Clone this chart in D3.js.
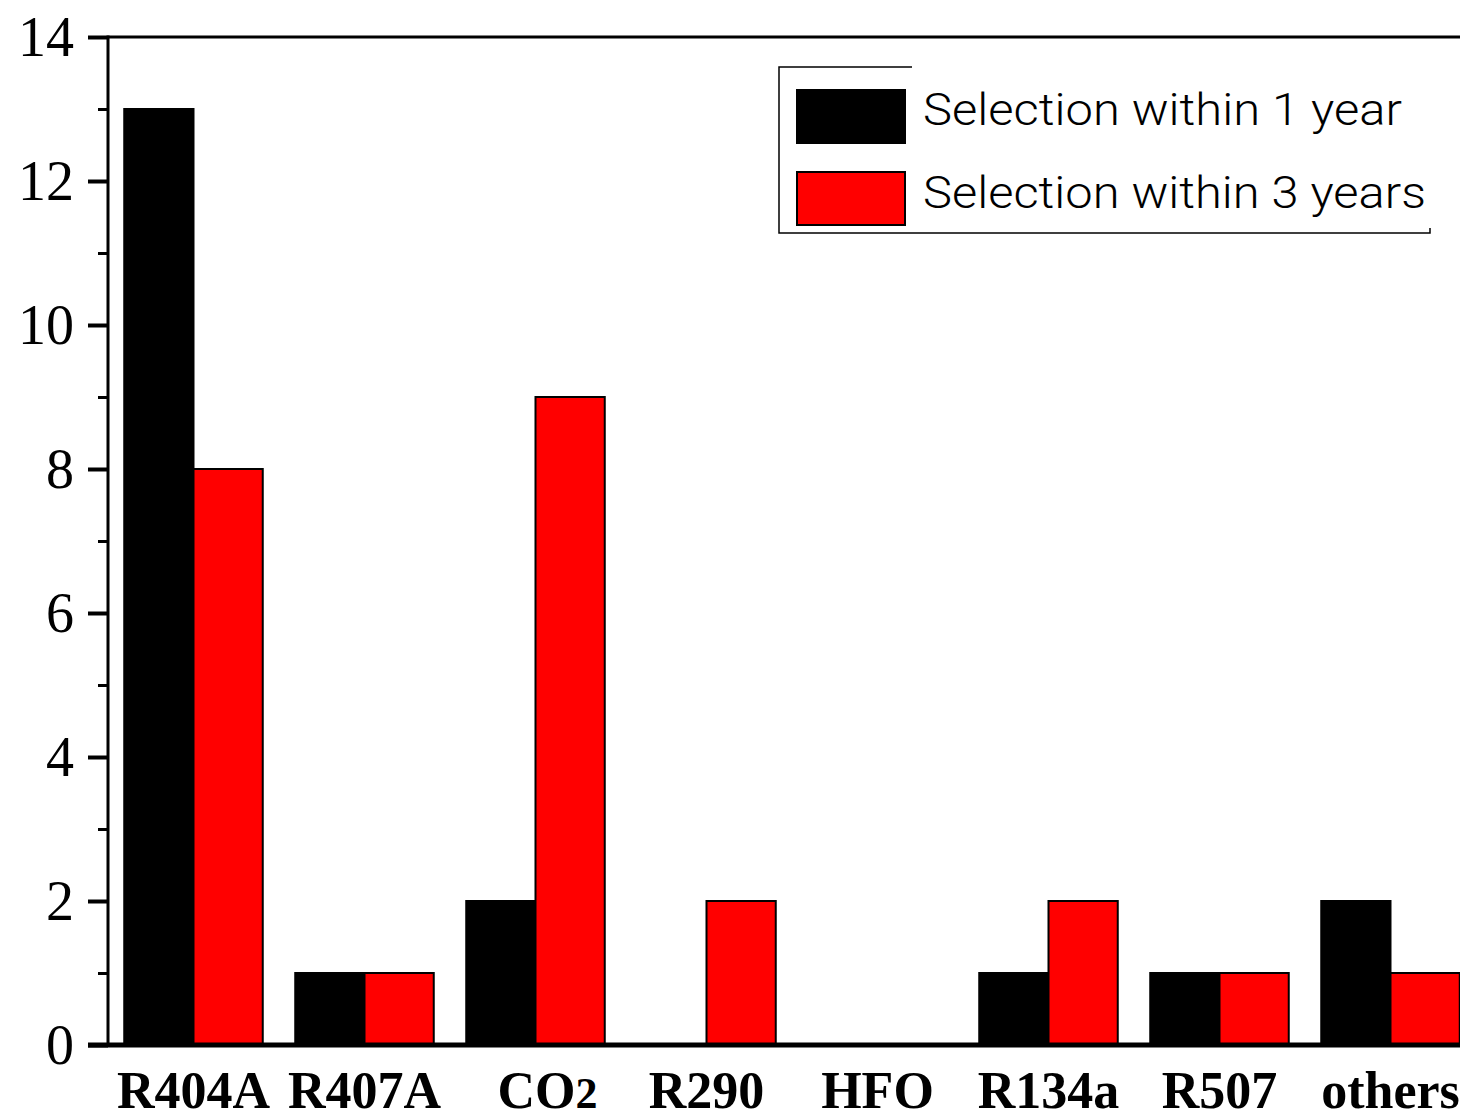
<!DOCTYPE html>
<html>
<head>
<meta charset="utf-8">
<script src="https://cdn.jsdelivr.net/npm/d3@7"></script>
<style>
  body { margin: 0; background: #fff; overflow: hidden; }
  .y-axis text { font-family: "Liberation Serif", "Times New Roman", serif; font-size: 56px; fill: #000; }
  .x-axis text { font-family: "Liberation Serif", "Times New Roman", serif; font-size: 52px; font-weight: bold; fill: #000; }
  .legend text { font-family: Roboto, "Liberation Sans", sans-serif; font-weight: 300; font-size: 44px; fill: #000; }
</style>
</head>
<body>
<div id="chart"></div>
<script>

// data
var categories = ["R404A", "R407A", "CO2", "R290", "HFO", "R134a", "R507", "others"]
var within1 = [13, 1, 2, 0, 0, 1, 1, 2]
var within3 = [8, 1, 9, 2, 0, 2, 1, 1]
var seriesNames = ["Selection within 1 year", "Selection within 3 years"]
var seriesColors = ["#000000", "#ff0000"]
var yTicks = [0, 2, 4, 6, 8, 10, 12, 14]
var yMinor = [1, 3, 5, 7, 9, 11, 13]

var width = 1460, height = 1113

var rows = categories.map(function(c, i) { return { cat: c, values: [within1[i], within3[i]] } })

var svg = d3.select("#chart")
	.append("svg")
	.attr("width", width)
	.attr("height", height)

var x = d3.scaleBand()
	.domain(categories)
	.range([108, 1476])
	.paddingInner(0.19)
	.paddingOuter(0.095)

var xInner = d3.scaleBand()
	.domain([0, 1])
	.range([0, x.bandwidth()])

var y = d3.scaleLinear()
	.domain([0, 14])
	.range([1045, 37])

// bars
var groups = svg.selectAll(".group")
	.data(rows)
	.enter()
	.append("g")
	.attr("class", "group")
	.attr("transform", function(d) { return "translate(" + x(d.cat) + ",0)" })

groups.selectAll("rect")
	.data(function(d) { return d.values.map(function(v, i) { return { v: v, s: i } }) })
	.enter()
	.append("rect")
	.attr("x", function(d) { return xInner(d.s) })
	.attr("y", function(d) { return y(d.v) })
	.attr("width", xInner.bandwidth())
	.attr("height", function(d) { return y(0) - y(d.v) })
	.attr("fill", function(d) { return seriesColors[d.s] })
	.attr("stroke", "#000")
	.attr("stroke-width", 2)

// top frame line
svg.append("line")
	.attr("x1", 108).attr("x2", width)
	.attr("y1", y(14)).attr("y2", y(14))
	.attr("stroke", "#000")
	.attr("stroke-width", 3)

// y axis, major then minor ticks
var yAxis = svg.append("g")
	.attr("class", "y-axis")
	.attr("transform", "translate(108,0)")
	.call(d3.axisLeft(y).tickValues(yTicks).tickSize(20).tickPadding(14).tickFormat(d3.format("d")))

yAxis.select(".domain").attr("stroke-width", 3).attr("d", "M0," + (y(14) - 1.5) + "V" + y(0))
yAxis.selectAll(".tick line").attr("stroke-width", 4)
yAxis.selectAll(".tick text").attr("dy", "0.33em")

var yMinorAxis = svg.append("g")
	.attr("transform", "translate(108,0)")
	.call(d3.axisLeft(y).tickValues(yMinor).tickSize(10).tickFormat(""))

yMinorAxis.select(".domain").remove()
yMinorAxis.selectAll(".tick line").attr("stroke-width", 3)

// x axis
var xAxis = svg.append("g")
	.attr("class", "x-axis")
	.attr("transform", "translate(0," + y(0) + ")")
	.call(d3.axisBottom(x).tickSize(0).tickPadding(26))

xAxis.select(".domain").attr("stroke-width", 5).attr("d", "M88,0H" + width)
xAxis.selectAll(".tick text").attr("dy", "0.71em")

// subscript for CO2
xAxis.selectAll(".tick text")
	.filter(function(d) { return d === "CO2" })
	.attr("dx", 12)
	.text("CO")
	.append("tspan")
	.attr("font-size", "44px")
	.text("2")

// legend
var legend = svg.append("g").attr("class", "legend")

legend.append("path")
	.attr("d", "M912,67H779V233H1430V228")
	.attr("fill", "none")
	.attr("stroke", "#000")
	.attr("stroke-width", 1.5)

seriesNames.forEach(function(name, i) {

	legend.append("rect")
		.attr("x", 797)
		.attr("y", 90 + i * 82)
		.attr("width", 108)
		.attr("height", 53)
		.attr("fill", seriesColors[i])
		.attr("stroke", "#000")
		.attr("stroke-width", 2)

	legend.append("text")
		.attr("x", 923)
		.attr("y", 125 + i * 83)
		.attr("textLength", i === 0 ? 479 : 503)
		.attr("lengthAdjust", "spacingAndGlyphs")
		.text(name)

})

</script>
</body>
</html>
